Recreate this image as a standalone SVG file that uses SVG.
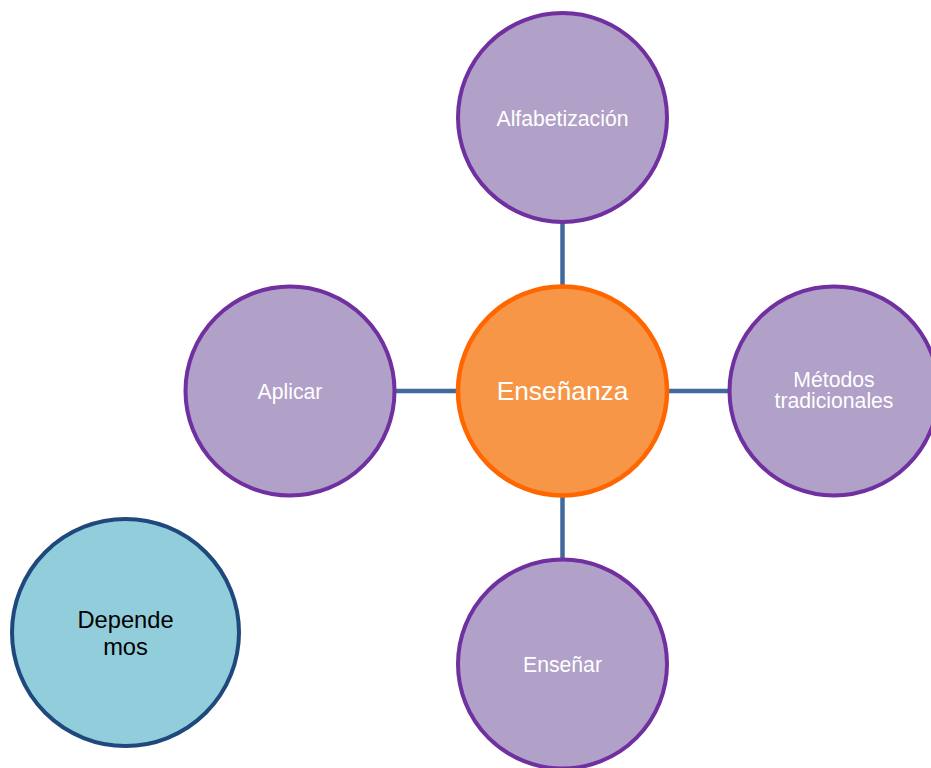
<svg xmlns="http://www.w3.org/2000/svg" width="931" height="768" viewBox="0 0 931 768">
<style>
.sat{fill:#B1A0C7;stroke:#7030A0;stroke-width:4}
.hub{fill:#F79646;stroke:#FF6600;stroke-width:4.5}
.dep{fill:#92CDDC;stroke:#1F497D;stroke-width:4}
.lbl{font-family:"Liberation Sans",Arial,sans-serif;font-size:21.2px;fill:#FFFFFF;text-anchor:middle}
.conn line{stroke:#41699E;stroke-width:4.5}
</style>
<rect width="931" height="768" fill="#FFFFFF"/>
<g id="connectors" class="conn">
<line x1="562.5" y1="222" x2="562.5" y2="287"/>
<line x1="562.5" y1="495" x2="562.5" y2="560"/>
<line x1="392" y1="391" x2="459" y2="391"/>
<line x1="666" y1="391" x2="731" y2="391"/>
</g>
<g id="alfabetizacion">
<circle class="sat" cx="562.5" cy="117.5" r="104.5"/>
<text class="lbl" x="562.5" y="125.5">Alfabetización</text>
</g>
<g id="aplicar">
<circle class="sat" cx="290" cy="391" r="104.5"/>
<text class="lbl" x="290" y="398.5">Aplicar</text>
</g>
<g id="metodos">
<circle class="sat" cx="834" cy="391" r="104.5"/>
<text class="lbl" x="834" y="386.5">Métodos</text>
<text class="lbl" x="834" y="408">tradicionales</text>
</g>
<g id="ensenar">
<circle class="sat" cx="562.5" cy="664" r="104.5"/>
<text class="lbl" x="562.5" y="671.5">Enseñar</text>
</g>
<g id="ensenanza">
<circle class="hub" cx="562.5" cy="391" r="104.5"/>
<text class="lbl" x="562.5" y="399.5" style="font-size:26.3px">Enseñanza</text>
</g>
<g id="dependemos">
<circle class="dep" cx="125.5" cy="632.5" r="113.5"/>
<text class="lbl" x="125.5" y="627.5" style="font-size:23.7px;fill:#000000">Depende</text>
<text class="lbl" x="125.5" y="654.5" style="font-size:23.7px;fill:#000000">mos</text>
</g>
</svg>
